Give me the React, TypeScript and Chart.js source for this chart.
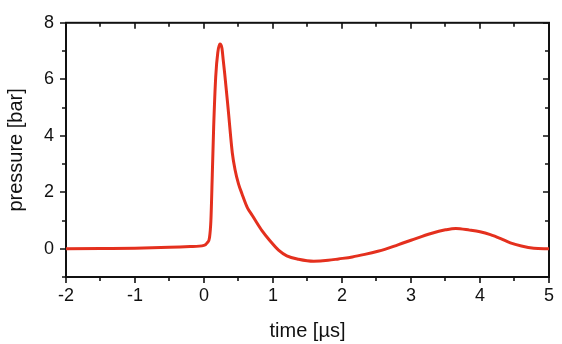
import React, { useEffect, useRef } from "react";
import { Chart, registerables } from "chart.js";

Chart.register(...registerables);

const timeUs = [
  -2.0, -1.5, -1.0, -0.5, -0.2, 0.0, 0.05, 0.08, 0.1, 0.12, 0.14, 0.17, 0.2, 0.23, 0.26, 0.28, 0.3, 0.35,
  0.41, 0.45, 0.5, 0.55, 0.63, 0.7, 0.75, 0.84, 0.95, 1.08, 1.2, 1.37, 1.59, 1.8, 1.95, 2.15, 2.33, 2.52,
  2.62, 2.81, 3.0, 3.29, 3.5, 3.65, 3.85, 4.0, 4.15, 4.3, 4.44, 4.6, 4.78, 5.0,
];
const pressureBar = [
  0.0, 0.01, 0.02, 0.05, 0.08, 0.12, 0.22, 0.4, 1.0, 2.6, 4.3, 6.1, 6.95, 7.25, 7.1, 6.65, 6.2, 4.95,
  3.4, 2.8, 2.3, 1.95, 1.45, 1.18, 0.98, 0.64, 0.3, -0.05, -0.25, -0.37, -0.44, -0.41, -0.36, -0.29, -0.2, -0.09,
  -0.02, 0.14, 0.3, 0.54, 0.67, 0.72, 0.66, 0.6, 0.5, 0.36, 0.21, 0.1, 0.02, 0.0,
];

const xMajorTicks = [-2, -1, 0, 1, 2, 3, 4, 5];
const xMinorTicks = [-1.5, -0.5, 0.5, 1.5, 2.5, 3.5, 4.5];
const yMajorTicks = [0, 2, 4, 6, 8];
const yMinorTicks = [-1, 1, 3, 5, 7];

const xTitle = "time [µs]";
const yTitle = "pressure [bar]";

const FONT = "'Liberation Sans', Arial, Helvetica, sans-serif";
const INK = "#111";

const framePlugin = {
  id: "frame",
  beforeDatasetsDraw(chart: any) {
    const { ctx, chartArea, scales } = chart;
    const { left, right, top, bottom } = chartArea;
    const xs = scales.x;
    const ys = scales.y;
    ctx.save();
    ctx.strokeStyle = INK;
    ctx.lineWidth = 2;
    ctx.strokeRect(left, top, right - left, bottom - top);
    ctx.lineWidth = 1.6;
    ctx.beginPath();
    const xTick = (v: number, len: number) => {
      const px = Math.round(xs.getPixelForValue(v));
      ctx.moveTo(px, bottom);
      ctx.lineTo(px, bottom + len);
      ctx.moveTo(px, top);
      ctx.lineTo(px, top + len);
    };
    const yTick = (v: number, len: number) => {
      const py = Math.round(ys.getPixelForValue(v));
      ctx.moveTo(left, py);
      ctx.lineTo(left - len, py);
      ctx.moveTo(right, py);
      ctx.lineTo(right - len, py);
    };
    xMajorTicks.forEach((v) => xTick(v, 6));
    xMinorTicks.forEach((v) => xTick(v, 4));
    yMajorTicks.forEach((v) => yTick(v, 6));
    yMinorTicks.forEach((v) => yTick(v, 4));
    ctx.stroke();
    ctx.restore();
  },
};

export default function App() {
  const canvasRef = useRef<HTMLCanvasElement | null>(null);

  useEffect(() => {
    document.body.style.margin = "0";
    const canvas = canvasRef.current;
    if (!canvas) return;
    const points = timeUs.map((t, i) => ({ x: t, y: pressureBar[i] }));
    const chart = new Chart(canvas, {
      type: "scatter",
      data: {
        datasets: [
          {
            data: points,
            showLine: true,
            borderColor: "rgb(228,48,30)",
            borderWidth: 3,
            pointRadius: 0,
            cubicInterpolationMode: "monotone",
            fill: false,
          } as any,
        ],
      },
      options: {
        animation: false,
        responsive: false,
        devicePixelRatio: 1,
        layout: { padding: { top: 14, right: 10, left: 0, bottom: 0 } },
        plugins: { legend: { display: false }, tooltip: { enabled: false } },
        scales: {
          x: {
            type: "linear",
            min: -2,
            max: 5,
            grid: { display: false, drawTicks: false },
            border: { display: false },
            afterBuildTicks: (scale: any) => {
              scale.ticks = xMajorTicks.map((v) => ({ value: v }));
            },
            afterFit: (scale: any) => {
              scale.height = 67;
            },
            ticks: {
              color: INK,
              padding: 8,
              maxRotation: 0,
              font: { family: FONT, size: 18 },
            },
            title: {
              display: true,
              text: xTitle,
              color: INK,
              padding: { top: 0, bottom: 1 },
              font: { family: FONT, size: 20 },
            },
          },
          y: {
            type: "linear",
            min: -1,
            max: 8,
            grid: { display: false, drawTicks: false },
            border: { display: false },
            afterBuildTicks: (scale: any) => {
              scale.ticks = yMajorTicks.map((v) => ({ value: v }));
            },
            afterFit: (scale: any) => {
              scale.width = 66;
            },
            ticks: {
              color: INK,
              padding: 12,
              font: { family: FONT, size: 18 },
            },
            title: {
              display: true,
              text: yTitle,
              color: INK,
              padding: { top: 4, bottom: 0 },
              font: { family: FONT, size: 20 },
            },
          },
        },
      },
      plugins: [framePlugin],
    });
    return () => chart.destroy();
  }, []);

  return (
    <div style={{ position: "fixed", left: 0, top: 0, width: 562, height: 344, background: "#fff" }}>
      <canvas ref={canvasRef} width={562} height={344} />
    </div>
  );
}
